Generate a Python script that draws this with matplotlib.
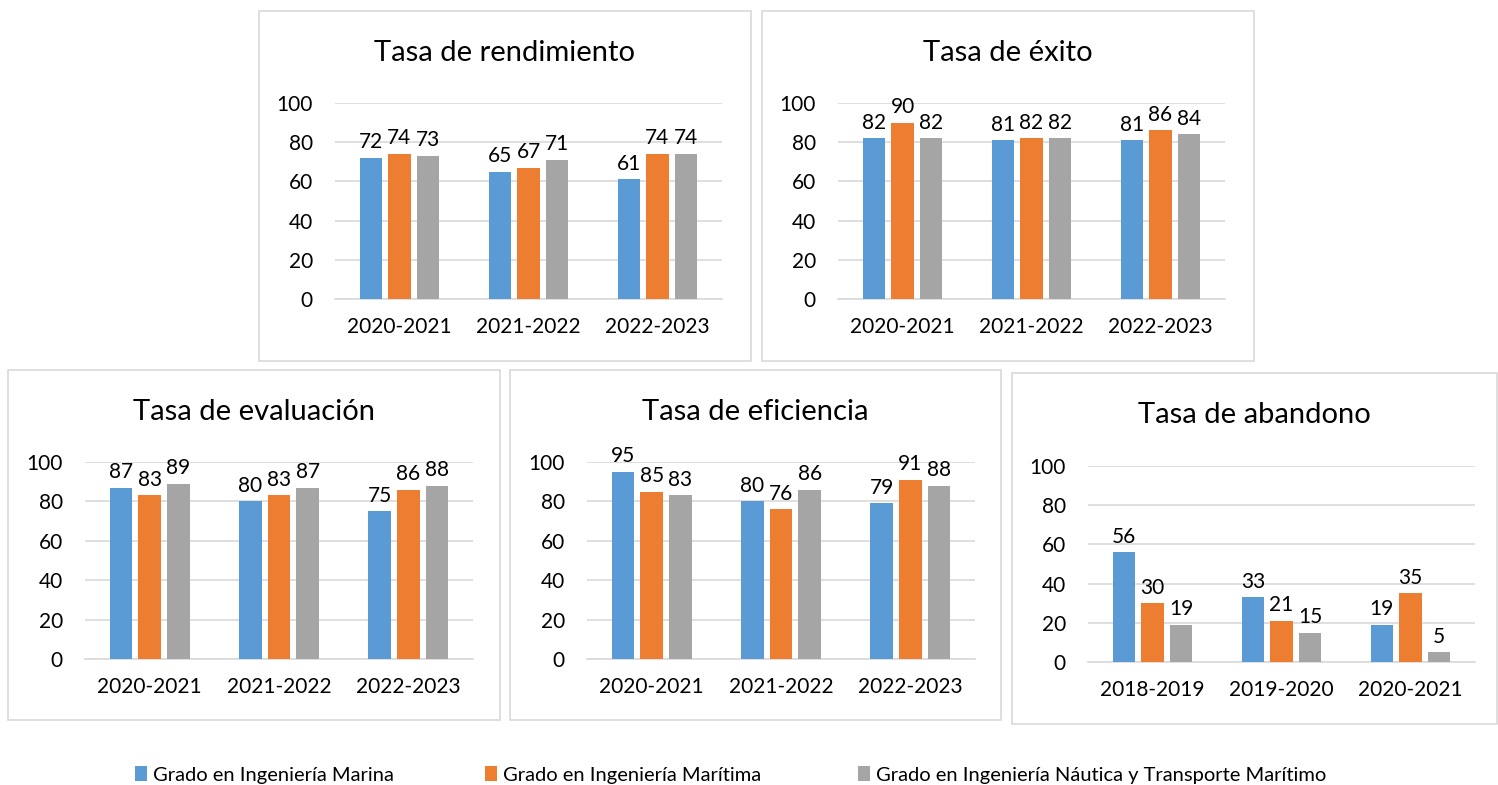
import numpy as np
import matplotlib
matplotlib.use("Agg")
import matplotlib.pyplot as plt
from matplotlib.patches import Rectangle, Patch

plt.rcParams['font.family'] = ['Lato', 'DejaVu Sans']

series = ["Grado en Ingeniería Marina",
          "Grado en Ingeniería Marítima",
          "Grado en Ingeniería Náutica y Transporte Marítimo"]
colors = ["#5B9BD5", "#ED7D31", "#A5A5A5"]

years_a = ["2020-2021", "2021-2022", "2022-2023"]
years_b = ["2018-2019", "2019-2020", "2020-2021"]

rendimiento = [[72, 65, 61], [74, 67, 74], [73, 71, 74]]
exito = [[82, 81, 81], [90, 82, 86], [82, 82, 84]]
evaluacion = [[87, 80, 75], [83, 83, 86], [89, 87, 88]]
eficiencia = [[95, 80, 79], [85, 76, 91], [83, 86, 88]]
abandono = [[56, 33, 19], [30, 21, 35], [19, 15, 5]]

W, H = 1498, 785
fig = plt.figure(figsize=(W / 100, H / 100), dpi=100)

# (title, cats, values, box px (x0,y0,x1,y1), plot px (x0,ytop,x1,ybot))
panels = [
    ("Tasa de rendimiento", years_a, rendimiento, (259, 11, 751, 361), (335, 103, 722, 299)),
    ("Tasa de éxito", years_a, exito, (762, 11, 1254, 361), (838, 103, 1225, 299)),
    ("Tasa de evaluación", years_a, evaluacion, (8, 370, 500, 720), (85, 462, 473, 659)),
    ("Tasa de eficiencia", years_a, eficiencia, (510, 370, 1001, 720), (587, 462, 975, 659)),
    ("Tasa de abandono", years_b, abandono, (1012, 373, 1497, 724), (1088, 466, 1475, 662)),
]

for title, cats, vals, box, area in panels:
    bx0, by0, bx1, by1 = box
    fig.patches.append(Rectangle((bx0 / W, 1 - by1 / H), (bx1 - bx0) / W, (by1 - by0) / H,
                                 transform=fig.transFigure, fill=False,
                                 edgecolor="#D9D9D9", linewidth=1.2))
    fig.text((bx0 + bx1) / 2 / W, 1 - (by0 + 42) / H, title, ha="center", va="center",
             fontsize=21, color="#000000")

    ax0, ayt, ax1, ayb = area
    ax = fig.add_axes([ax0 / W, 1 - ayb / H, (ax1 - ax0) / W, (ayb - ayt) / H])
    x = np.arange(len(cats))
    for i, v in enumerate(vals):
        bars = ax.bar(x + (i - 1) * 0.222, v, width=0.175, color=colors[i], zorder=3)
        for b, val in zip(bars, v):
            ax.annotate(str(val), (b.get_x() + b.get_width() / 2, b.get_height()),
                        xytext=(0, 4), textcoords="offset points",
                        ha="center", va="bottom", fontsize=15)
    ax.set_xlim(-0.5, 2.5)
    ax.set_ylim(0, 100)
    ax.set_yticks([0, 20, 40, 60, 80, 100])
    ax.set_xticks(x)
    ax.set_xticklabels(cats)
    ax.yaxis.grid(True, color="#D9D9D9", linewidth=1.2, zorder=0)
    ax.set_axisbelow(True)
    for s in ["top", "right", "left"]:
        ax.spines[s].set_visible(False)
    ax.spines["bottom"].set_color("#D9D9D9")
    ax.spines["bottom"].set_linewidth(1.2)
    ax.tick_params(axis="both", length=0, labelsize=15)
    ax.tick_params(axis="y", pad=16)
    ax.tick_params(axis="x", pad=13)
    ax.set_facecolor("none")

# legend entries placed individually along the bottom
leg_x = [135, 485, 858]
for lx, name, c in zip(leg_x, series, colors):
    fig.legend(handles=[Patch(facecolor=c, edgecolor="none")], labels=[name],
               loc="center left", bbox_to_anchor=(lx / W, 1 - 775 / H),
               frameon=False, fontsize=14.5, handlelength=0.6, handleheight=0.7,
               handletextpad=0.3, borderpad=0, borderaxespad=0)

fig.savefig("out.png", dpi=100)
